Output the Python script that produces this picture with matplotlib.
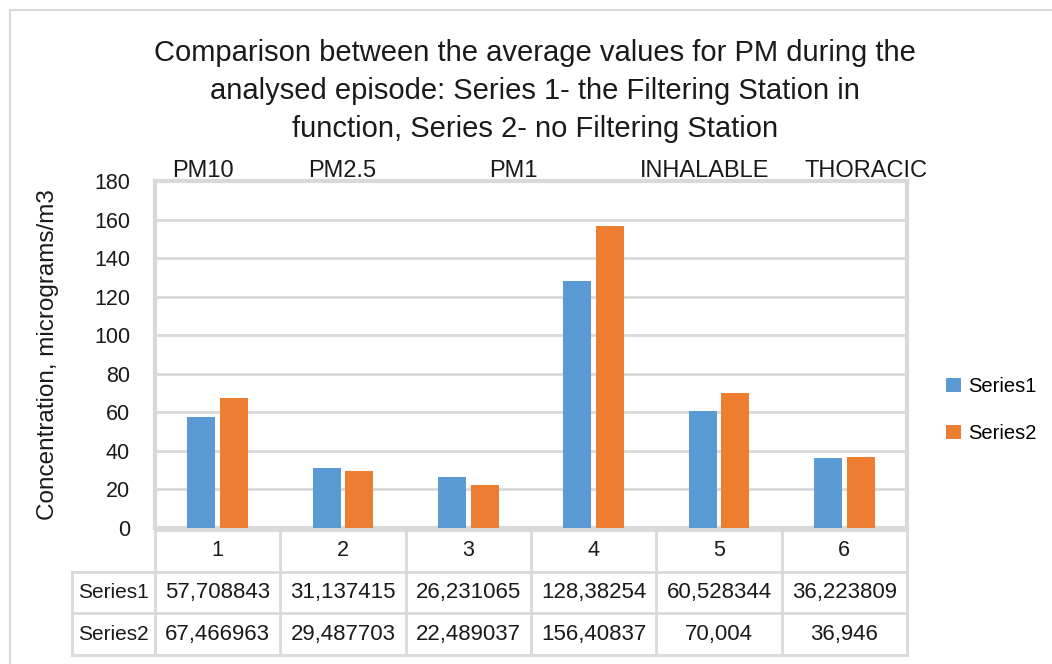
import matplotlib.pyplot as plt
import numpy as np
from matplotlib.patches import Rectangle

categories = ["1", "2", "3", "4", "5", "6"]
pm_labels = ["PM10", "PM2.5", "PM1", "INHALABLE", "THORACIC"]
series1 = [57.708843, 31.137415, 26.231065, 128.38254, 60.528344, 36.223809]
series2 = [67.466963, 29.487703, 22.489037, 156.40837, 70.004, 36.946]
series_names = ["Series1", "Series2"]
yticks = [0, 20, 40, 60, 80, 100, 120, 140, 160, 180]

W, H = 1052, 664
plt.rcParams["font.family"] = ["Liberation Sans", "DejaVu Sans"]
GRID = "#d9d9d9"
TXT = "#1a1a1a"
C1, C2 = "#5b9bd5", "#ed7d31"


def fx(px):
    return px / W


def fy(py):
    return 1 - py / H


def fmt(v):
    return "{:.8g}".format(v).replace(".", ",")


fig = plt.figure(figsize=(W / 100, H / 100), dpi=100)

# outer chart frame
fig.patches.append(Rectangle((fx(10), fy(700)), fx(1100), fy(10) - fy(700),
                             transform=fig.transFigure, fill=False,
                             edgecolor=GRID, lw=1.5))

# title
fig.text(fx(535), fy(91),
         "Comparison between the average values for PM during the\n"
         "analysed episode: Series 1- the Filtering Station in\n"
         "function, Series 2- no Filtering Station",
         ha="center", va="center", fontsize=21, linespacing=1.45, color=TXT)

# main axes
left, right, top, bottom = 155, 907, 181, 528
ax = fig.add_axes([fx(left), fy(bottom), fx(right - left), fy(top) - fy(bottom)])
x = np.arange(len(categories))
w = 0.225
ax.bar(x - 0.13, series1, w, color=C1, label=series_names[0], zorder=3)
ax.bar(x + 0.13, series2, w, color=C2, label=series_names[1], zorder=3)
ax.set_xlim(-0.5, len(categories) - 0.5)
ax.set_ylim(0, 180)
ax.set_yticks(yticks)
ax.set_xticks([])
ax.tick_params(axis="y", length=0, labelsize=15.5, pad=18, labelcolor=TXT)
ax.yaxis.grid(True, color=GRID, lw=2, zorder=0)
for s in ax.spines.values():
    s.set_color(GRID)
    s.set_linewidth(3)
ax.set_ylabel("Concentration, micrograms/m3", fontsize=17.5, color=TXT)
ax.yaxis.set_label_coords((59 - left) / (right - left), 0.5)

# labels above the plot
for lab, px in zip(pm_labels, [203, 342, 513, 705, 866]):
    fig.text(fx(px), fy(171), lab, ha="center", va="center", fontsize=17,
             color=TXT)

# legend
ax.legend(loc="center left", frameon=False, fontsize=14.5, handlelength=0.75,
          handleheight=0.75, handletextpad=0.35, labelspacing=1.4,
          bbox_to_anchor=(fx(928), fy(410)), bbox_transform=fig.transFigure)

# data table
tleft, ttop, tbottom = 72, 530, 655
unit = (right - left) / len(categories)
lab_w = (left - tleft) / unit
tax = fig.add_axes([fx(tleft), fy(tbottom), fx(right - tleft), fy(ttop) - fy(tbottom)])
tax.set_xlim(-0.5 - lab_w, len(categories) - 0.5)
tax.set_ylim(3, 0)
tax.axis("off")
lc = dict(color=GRID, lw=2, clip_on=False)
for r in [0, 1, 2, 3]:
    x0 = -0.5 if r == 0 else -0.5 - lab_w
    tax.plot([x0, len(categories) - 0.5], [r, r], **lc)
for i in range(len(categories) + 1):
    tax.plot([i - 0.5, i - 0.5], [0, 3], **lc)
tax.plot([-0.5 - lab_w] * 2, [1, 3], **lc)
for i, c in enumerate(categories):
    tax.text(i, 0.5, c, ha="center", va="center", fontsize=15.5, color=TXT)
for r, (name, vals) in enumerate(zip(series_names, [series1, series2]), start=1):
    tax.text(-0.5 - lab_w / 2, r + 0.5, name, ha="center", va="center",
             fontsize=15, color=TXT)
    for i, v in enumerate(vals):
        tax.text(i, r + 0.5, fmt(v), ha="center", va="center", fontsize=16,
                 color=TXT)

fig.savefig("out.png", dpi=100)
